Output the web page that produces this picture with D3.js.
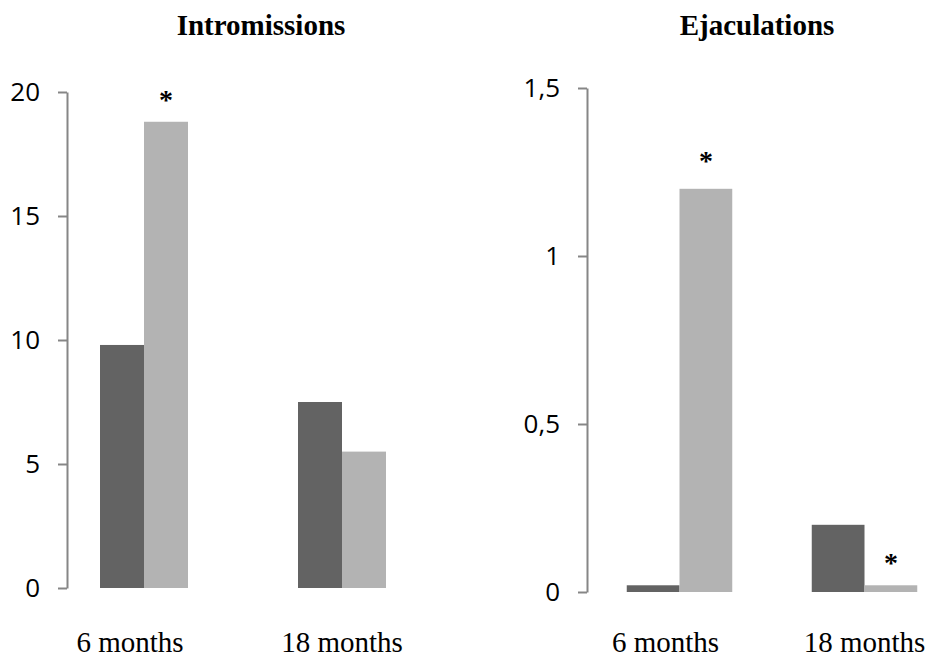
<!DOCTYPE html>
<html>
<head>
<meta charset="utf-8">
<script src="https://cdn.jsdelivr.net/npm/d3@7"></script>
<style>
  html, body { margin: 0; padding: 0; background: #fff; }
  svg { display: block; }
</style>
</head>
<body>
<svg id="chart" width="927" height="657"></svg>
<script>
// ---- data ----
const categories = ["6 months", "18 months"];
const seriesNames = ["A", "B"];
const intromissionsA = [9.8, 7.5];
const intromissionsB = [18.8, 5.5];
const ejaculationsA = [0.02, 0.2];
const ejaculationsB = [1.2, 0.02];
const intromissionsTicks = [0, 5, 10, 15, 20];
const ejaculationsTicks = [0, 0.5, 1, 1.5];
const titles = ["Intromissions", "Ejaculations"];
// significance stars: [category index, series index, y-value of star]
const intromissionsStars = [[0, 1, 19.9]];
const ejaculationsStars = [[0, 1, 1.30], [1, 1, 0.105]];

const colors = ["#636363", "#b3b3b3"];
const labelShift = [-14, 0];
const commaFmt = d3.formatLocale({decimal: ",", thousands: ".", grouping: [3], currency: ["", ""]}).format("~g");

const svg = d3.select("#chart");

function panel(cfg) {
  const g = svg.append("g");
  const y = d3.scaleLinear().domain(cfg.domain).range([cfg.y0, cfg.y1]);
  const x0 = d3.scaleBand().domain(categories).range(cfg.xRange)
    .paddingInner(cfg.padIn).paddingOuter(cfg.padIn / 2);
  const x1 = d3.scaleBand().domain(seriesNames).range([0, x0.bandwidth()]);

  // axis
  const ax = g.append("g")
    .attr("transform", `translate(${cfg.axisX},0)`)
    .call(d3.axisLeft(y).tickValues(cfg.ticks).tickFormat(commaFmt).tickSize(9).tickSizeOuter(0).tickPadding(18));
  ax.select(".domain").attr("stroke", "#868686").attr("stroke-width", 2);
  ax.selectAll(".tick line").attr("stroke", "#868686").attr("stroke-width", 2);
  ax.selectAll(".tick text")
    .attr("font-family", "'Open Sans', sans-serif")
    .attr("font-size", 26)
    .attr("fill", "#000");

  // bars
  const rows = categories.map((c, i) => ({c, vals: [cfg.a[i], cfg.b[i]]}));
  const grp = g.selectAll("g.grp").data(rows).join("g")
    .attr("class", "grp")
    .attr("transform", d => `translate(${x0(d.c)},0)`);
  grp.selectAll("rect").data(d => d.vals.map((v, j) => ({v, s: seriesNames[j], j})))
    .join("rect")
    .attr("x", d => x1(d.s))
    .attr("width", x1.bandwidth())
    .attr("y", d => y(d.v))
    .attr("height", d => y(0) - y(d.v))
    .attr("fill", d => colors[d.j]);

  // stars
  g.selectAll("text.star").data(cfg.stars).join("text")
    .attr("class", "star")
    .attr("x", d => x0(categories[d[0]]) + x1(seriesNames[d[1]]) + x1.bandwidth() / 2)
    .attr("y", d => y(d[2]) + 15)
    .attr("text-anchor", "middle")
    .attr("font-family", "'Liberation Serif', serif")
    .attr("font-size", 28)
    .attr("font-weight", "bold")
    .text("*");

  // category labels
  g.selectAll("text.cat").data(categories).join("text")
    .attr("class", "cat")
    .attr("x", (c, i) => x0(c) + x0.bandwidth() / 2 + labelShift[i])
    .attr("y", 652)
    .attr("text-anchor", "middle")
    .attr("font-family", "'Liberation Serif', serif")
    .attr("font-size", 29)
    .text(c => c);

  // title
  g.append("text")
    .attr("x", cfg.titleX)
    .attr("y", 35)
    .attr("text-anchor", "middle")
    .attr("font-family", "'Liberation Serif', serif")
    .attr("font-weight", "bold")
    .attr("font-size", 29)
    .text(cfg.title);
}

panel({
  domain: [0, 20], y0: 588, y1: 92, ticks: intromissionsTicks,
  xRange: [45, 441], padIn: 110 / 198, axisX: 67,
  a: intromissionsA, b: intromissionsB, stars: intromissionsStars,
  title: titles[0], titleX: 261
});
panel({
  domain: [0, 1.5], y0: 592, y1: 88, ticks: ejaculationsTicks,
  xRange: [587, 957], padIn: 79.5 / 185, axisX: 587,
  a: ejaculationsA, b: ejaculationsB, stars: ejaculationsStars,
  title: titles[1], titleX: 757
});
</script>
</body>
</html>
